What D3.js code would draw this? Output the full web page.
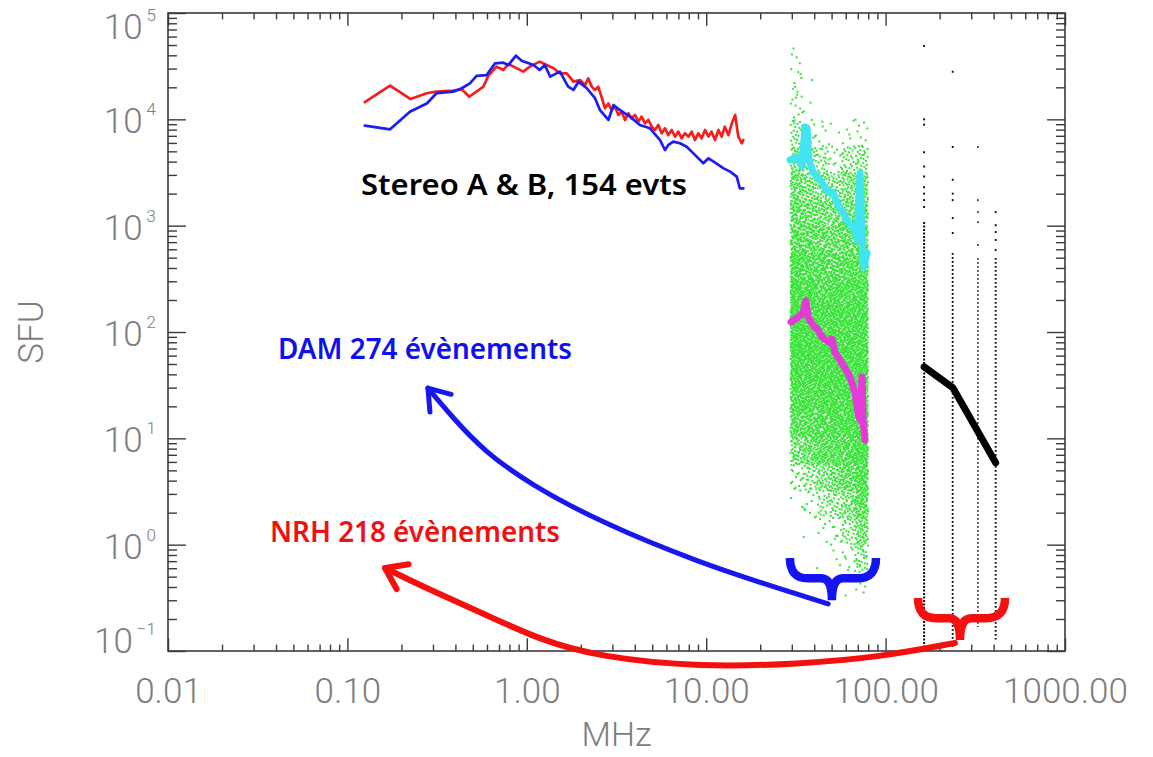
<!DOCTYPE html>
<html>
<head>
<meta charset="utf-8">
<script src="https://cdn.jsdelivr.net/npm/d3@7"></script>
<style>
  body { margin: 0; background: #fff; }
  svg { display: block; }
</style>
</head>
<body>
<svg id="chart" width="1153" height="757"></svg>
<script>
// ---------------- data ----------------
// STEREO A (red) and B (blue) average spectra, MHz / SFU
const stereoAFreq = [0.125,0.173,0.225,0.277,0.314,0.389,0.434,0.478,0.573,0.610,0.679,0.740,0.789,0.860,0.956,1.04,1.18,1.29,1.41,1.53,1.67,1.82,1.98,2.11,2.20,2.30,2.40,2.50,2.61,2.73,2.85,2.97,3.10,3.24,3.38,3.53,3.68,3.84,4.01,4.18,4.37,4.56,4.76,4.97,5.18,5.41,5.65,5.89,6.15,6.42,6.70,6.99,7.30,7.62,7.95,8.30,8.66,9.04,9.43,9.85,10.3,10.7,11.2,11.7,12.2,12.7,13.3,13.9,14.5,15.1,15.8,16.1];
const stereoASfu  = [1.45e4,2.07e4,1.55e4,1.76e4,1.82e4,1.86e4,1.92e4,1.63e4,2.03e4,2.56e4,3.13e4,2.91e4,3.31e4,3.08e4,2.81e4,3.13e4,3.49e4,3.24e4,3.02e4,2.71e4,2.71e4,2.26e4,2.34e4,2.10e4,2.43e4,2.03e4,1.89e4,2.03e4,1.63e4,1.27e4,1.41e4,1.22e4,1.32e4,1.10e4,1.18e4,9.86e3,1.14e4,1.02e4,1.10e4,9.51e3,1.06e4,9.17e3,9.86e3,8.53e3,7.94e3,8.85e3,7.39e3,8.23e3,7.12e3,7.94e3,6.87e3,7.66e3,6.63e3,7.39e3,6.87e3,7.66e3,6.39e3,7.39e3,6.63e3,7.94e3,6.87e3,7.66e3,6.39e3,7.94e3,6.87e3,8.53e3,7.12e3,9.17e3,1.10e4,6.87e3,5.95e3,6.39e3];

const stereoBFreq = [0.125,0.173,0.223,0.277,0.314,0.389,0.434,0.482,0.525,0.597,0.665,0.740,0.789,0.870,0.936,1.09,1.18,1.26,1.35,1.53,1.70,1.82,1.94,2.16,2.40,2.56,2.85,3.04,3.31,3.76,4.27,4.86,5.53,5.89,6.15,6.56,7.14,7.78,8.30,8.85,9.64,10.3,11.0,12.5,13.6,14.8,15.4,16.1];
const stereoBSfu  = [8.72e3,8.05e3,1.18e4,1.41e4,1.76e4,1.82e4,1.96e4,2.18e4,2.56e4,2.61e4,3.36e4,3.41e4,3.24e4,3.97e4,3.56e4,3.24e4,2.91e4,3.24e4,2.52e4,2.81e4,2.03e4,1.89e4,2.26e4,1.96e4,1.58e4,1.22e4,9.86e3,1.36e4,1.22e4,1.06e4,8.85e3,8.23e3,6.39e3,5.15e3,5.74e3,6.17e3,5.95e3,5.53e3,4.97e3,4.46e3,3.86e3,4.30e3,4.00e3,3.46e3,3.22e3,2.89e3,2.24e3,2.24e3];

// DAM event fluxes: number of points per (frequency bin x flux bin)
const damFreqEdges = [29.5, 34.6, 40.9, 48.4, 57.1, 67.5, 79.8];
const damSfuEdges  = [5.62e4,3.16e4,1.78e4,1e4,5.62e3,3.16e3,1.78e3,1e3,562,316,178,100,56.2,31.6,17.8,10,5.62,3.16,1.78,1,0.562,0.316];
const damCounts = [
  [  4,  0,  0,  0,  0,  0],
  [  8,  1,  0,  0,  0,  0],
  [ 10,  2,  0,  0,  0,  0],
  [ 25, 10,  6,  2,  5,  8],
  [ 45, 30, 25, 10, 25, 30],
  [ 60, 50, 45, 35, 50, 55],
  [ 70, 65, 60, 55, 65, 70],
  [ 80, 80, 75, 70, 75, 80],
  [ 95, 90, 90, 85, 90, 90],
  [110,105,100,100,100,105],
  [115,115,110,110,110,110],
  [115,115,115,115,115,115],
  [110,110,110,110,110,115],
  [100,105,105,105,110,115],
  [ 80, 90, 95,100,105,115],
  [ 50, 65, 80, 85, 95,110],
  [ 15, 30, 45, 60, 75,100],
  [  2,  8, 20, 30, 45, 80],
  [  0,  1,  5, 10, 25, 55],
  [  0,  0,  1,  3,  8, 30],
  [  0,  0,  0,  0,  1,  8]
];

// DAM upper (cyan) and median (magenta) spectra
const damUpperFreq = [29.3,32.1,34.2,35.5,36.5,37.4,39.4,43.1,45.9,49.0,50.9,53.6,57.9,61.7,67.5,69.3,72.0,73.9,75.8,78.8];
const damUpperSfu  = [4150,4420,3640,8470,8290,4150,3200,2690,2260,2030,2070,1630,1320,1080,911,733,3130,733,409,553];
const damMedianFreq = [29.7,32.5,34.6,36.0,36.9,39.4,42.0,44.8,49.0,50.2,52.2,55.7,59.4,63.3,67.5,70.2,72.0,73.9,74.8,76.8];
const damMedianSfu  = [124,138,151,196,138,116,104,87.8,78.8,85.9,64.8,54.5,45.8,37.7,26.7,17.3,14.9,37.7,14.9,9.6];

// NRH frequencies, event fluxes and mean spectrum
const nrhFreqs = [164, 236.6, 327, 410.7];
const nrhIsolated = [
  [4.9e4,1.0e4,8.9e3,4.9e3,3.6e3,2.9e3,2.3e3,2.0e3,1.74e3,1.5e3],
  [2.8e4,5.5e3,2.7e3,2.0e3,1.74e3,1.18e3,853],
  [5.5e3,1.74e3,1.34e3,1.08e3,658],
  [1.34e3,1.01e3,871,733,590]
];
const nrhDenseTop    = [1.08e3, 553, 497, 497];
const nrhDenseBottom = [0.105, 0.107, 0.168, 0.128];
const nrhMeanFreq = [164, 236.6, 410.7];
const nrhMeanSfu  = [47, 30, 5.9];

// annotation anchors (MHz / SFU)
const damArrowFreq = [0.281,0.383,0.585,1.04,2.56,9.24,29.3,47.8];
const damArrowSfu  = [29.7,15.9,7.43,3.72,1.63,0.672,0.359,0.277];
const nrhArrowFreq = [0.162,0.289,0.548,1.18,2.56,9.24,33.3,93.1,243.7];
const nrhArrowSfu  = [0.603,0.374,0.233,0.127,0.0877,0.0706,0.0754,0.0877,0.119];
const damBraceFreq = [29.3, 50.2, 88.4];
const damBraceSfu  = [0.748, 0.30];
const nrhBraceFreq = [151.6, 259.8, 463];
const nrhBraceSfu  = [0.315, 0.127];

// axes
const xMajorTicks = [0.01, 0.1, 1, 10, 100, 1000];
const xTickLabels = ["0.01", "0.10", "1.00", "10.00", "100.00", "1000.00"];
const yMajorTicks = [0.1, 1, 10, 100, 1e3, 1e4, 1e5];
const yExponents  = ["\u22121", "0", "1", "2", "3", "4", "5"];

const labelStereo = "Stereo A & B, 154 evts";
const labelDam = "DAM 274 évènements";
const labelNrh = "NRH 218 évènements";

// ---------------- layout ----------------
const plot = { left: 168, top: 13, right: 1065, bottom: 651 };
const pw = plot.right - plot.left, ph = plot.bottom - plot.top;
const x = d3.scaleLog().domain([0.01, 1000]).range([plot.left, plot.right]);
const y = d3.scaleLog().domain([0.1, 1e5]).range([plot.bottom, plot.top]);

const svg = d3.select("#chart");
const axisColor = "#3a3a3a";
const labelColor = "#7d7d7d";
const tickFont = "Roboto, 'Liberation Sans', Arial, sans-serif";
const noteFont = "'Noto Sans', 'DejaVu Sans', sans-serif";

// ---------------- DAM point cloud ----------------
// points of each bin are spread over the bin with a Halton layout
function halton(i, b) {
  let f = 1, r = 0;
  while (i > 0) { f /= b; r += f * (i % b); i = Math.floor(i / b); }
  return r;
}
const cloud = [];
let k = 1;
damCounts.forEach((row, r) => {
  row.forEach((n, c) => {
    const f0 = damFreqEdges[c], f1 = damFreqEdges[c + 1];
    const s0 = damSfuEdges[r + 1], s1 = damSfuEdges[r];
    for (let i = 0; i < n; i++, k++) {
      const u = halton(k, 2), v = halton(k, 3);
      cloud.push([f0 * Math.pow(f1 / f0, u), s0 * Math.pow(s1 / s0, v)]);
    }
  });
});
svg.append("g").attr("fill", "#36e336")
  .selectAll("rect").data(cloud).join("rect")
  .attr("x", d => x(d[0]) - 1).attr("y", d => y(d[1]) - 1)
  .attr("width", 2).attr("height", 2);

// ---------------- NRH event columns ----------------
const nrhG = svg.append("g");
const colOpacity = [1, 0.95, 0.7, 0.95];
nrhFreqs.forEach((f, i) => {
  nrhG.append("line")
    .attr("x1", x(f)).attr("x2", x(f))
    .attr("y1", y(nrhDenseTop[i])).attr("y2", y(nrhDenseBottom[i]))
    .attr("stroke", "#000").attr("stroke-width", 1.9)
    .attr("stroke-dasharray", i === 0 ? "2,1.5" : "1.8,2.2")
    .attr("opacity", colOpacity[i]);
  nrhG.selectAll(null).data(nrhIsolated[i]).join("rect")
    .attr("x", x(f) - 0.9).attr("y", d => y(d) - 1)
    .attr("width", 1.8).attr("height", 2)
    .attr("fill", "#000").attr("opacity", colOpacity[i]);
});

// ---------------- spectra ----------------
const line = d3.line().x(d => x(d[0])).y(d => y(d[1]));
function drawSeries(fr, sf, color, width) {
  svg.append("path").datum(d3.zip(fr, sf))
    .attr("d", line).attr("fill", "none")
    .attr("stroke", color).attr("stroke-width", width)
    .attr("stroke-linejoin", "round").attr("stroke-linecap", "round");
}
drawSeries(damUpperFreq, damUpperSfu, "#42e3f2", 7);
drawSeries(damMedianFreq, damMedianSfu, "#e63ad8", 7);
drawSeries(nrhMeanFreq, nrhMeanSfu, "#000", 7);
drawSeries(stereoAFreq, stereoASfu, "#f51d1d", 2.7);
drawSeries(stereoBFreq, stereoBSfu, "#1c1cf5", 2.7);

// ---------------- axes ----------------
function minorTicks(scale) {
  return scale.ticks().filter(t => {
    const l = Math.log10(t);
    return Math.abs(l - Math.round(l)) > 1e-6;
  });
}
const xMinor = minorTicks(x), yMinor = minorTicks(y);
const tl = 0.02;
function styleAxis(g) {
  g.select(".domain").remove();
  g.selectAll(".tick line").attr("stroke", axisColor).attr("stroke-width", 1.4);
}
svg.append("g").attr("transform", `translate(0,${plot.bottom})`)
  .call(d3.axisBottom(x).tickValues(xMajorTicks).tickSizeInner(-tl * ph).tickSizeOuter(0)
    .tickPadding(27).tickFormat((d, i) => xTickLabels[i]))
  .call(styleAxis)
  .call(g => g.selectAll(".tick text").attr("font-family", tickFont).attr("font-weight", 300)
    .attr("font-size", 35).attr("fill", labelColor));
svg.append("g").attr("transform", `translate(0,${plot.bottom})`)
  .call(d3.axisBottom(x).tickValues(xMinor).tickSizeInner(-tl * ph / 2).tickSizeOuter(0).tickFormat(""))
  .call(styleAxis);
svg.append("g").attr("transform", `translate(0,${plot.top})`)
  .call(d3.axisTop(x).tickValues(xMajorTicks).tickSizeInner(-tl * ph).tickSizeOuter(0).tickFormat(""))
  .call(styleAxis);
svg.append("g").attr("transform", `translate(0,${plot.top})`)
  .call(d3.axisTop(x).tickValues(xMinor).tickSizeInner(-tl * ph / 2).tickSizeOuter(0).tickFormat(""))
  .call(styleAxis);
svg.append("g").attr("transform", `translate(${plot.left},0)`)
  .call(d3.axisLeft(y).tickValues(yMajorTicks).tickSizeInner(-tl * pw).tickSizeOuter(0).tickFormat(""))
  .call(styleAxis);
svg.append("g").attr("transform", `translate(${plot.left},0)`)
  .call(d3.axisLeft(y).tickValues(yMinor).tickSizeInner(-tl * pw / 2).tickSizeOuter(0).tickFormat(""))
  .call(styleAxis);
svg.append("g").attr("transform", `translate(${plot.right},0)`)
  .call(d3.axisRight(y).tickValues(yMajorTicks).tickSizeInner(-tl * pw).tickSizeOuter(0).tickFormat(""))
  .call(styleAxis);
svg.append("g").attr("transform", `translate(${plot.right},0)`)
  .call(d3.axisRight(y).tickValues(yMinor).tickSizeInner(-tl * pw / 2).tickSizeOuter(0).tickFormat(""))
  .call(styleAxis);
svg.append("rect")
  .attr("x", plot.left).attr("y", plot.top).attr("width", pw).attr("height", ph)
  .attr("fill", "none").attr("stroke", axisColor).attr("stroke-width", 1.6);

// y tick labels as 10^n
const yl = svg.append("g").attr("font-family", tickFont).attr("font-weight", 300)
  .attr("fill", labelColor).attr("text-anchor", "end");
yMajorTicks.forEach((v, i) => {
  const base = Math.min(Math.max(y(v) + 14, plot.top + 25.5), plot.bottom + 2);
  const t = yl.append("text").attr("x", plot.left - 12).attr("y", base);
  t.append("tspan").attr("font-size", 35).text("10");
  t.append("tspan").attr("font-size", 17).attr("dx", 4).attr("dy", -18).text(yExponents[i]);
});

// axis titles
svg.append("text").attr("x", (plot.left + plot.right) / 2).attr("y", 746)
  .attr("text-anchor", "middle").attr("font-family", tickFont).attr("font-weight", 300)
  .attr("font-size", 34).attr("fill", labelColor).text("MHz");
svg.append("text").attr("transform", `translate(43,${(plot.top + plot.bottom) / 2}) rotate(-90)`)
  .attr("text-anchor", "middle").attr("font-family", tickFont).attr("font-weight", 300)
  .attr("font-size", 35).attr("fill", labelColor).text("SFU");

// ---------------- annotations ----------------
const curve = d3.line().x(d => x(d[0])).y(d => y(d[1])).curve(d3.curveBasis);
function arrow(fr, sf, color, width) {
  const pts = d3.zip(fr, sf);
  svg.append("path").datum(pts).attr("d", curve).attr("fill", "none")
    .attr("stroke", color).attr("stroke-width", width).attr("stroke-linecap", "round");
  const tx = x(pts[0][0]), ty = y(pts[0][1]);
  const bx = x(pts[1][0]) - tx, by = y(pts[1][1]) - ty;
  const ang = Math.atan2(by, bx), len = 24, spread = 35 * Math.PI / 180;
  const p = [[tx + len * Math.cos(ang - spread), ty + len * Math.sin(ang - spread)], [tx, ty],
             [tx + len * Math.cos(ang + spread), ty + len * Math.sin(ang + spread)]];
  svg.append("path").attr("d", d3.line()(p)).attr("fill", "none")
    .attr("stroke", color).attr("stroke-width", width)
    .attr("stroke-linecap", "round").attr("stroke-linejoin", "round");
}
arrow(damArrowFreq, damArrowSfu, "#1818ee", 5);
arrow(nrhArrowFreq, nrhArrowSfu, "#f51010", 6);

function brace(fr, sf, color) {
  const x0 = x(fr[0]), xc = x(fr[1]), x1 = x(fr[2]);
  const y0 = y(sf[0]), yt = y(sf[1]);
  const ym = y0 + (yt - y0) * 0.48;
  const rl = (xc - x0) * 0.42, rr = (x1 - xc) * 0.42;
  const d = `M${x0},${y0} Q${x0},${ym} ${x0 + rl},${ym} L${xc - rl * 0.6},${ym} Q${xc},${ym} ${xc},${yt}` +
            ` M${x1},${y0} Q${x1},${ym} ${x1 - rr},${ym} L${xc + rr * 0.6},${ym} Q${xc},${ym} ${xc},${yt}`;
  svg.append("path").attr("d", d).attr("fill", "none").attr("stroke", color)
    .attr("stroke-width", 8.5).attr("stroke-linecap", "butt").attr("stroke-linejoin", "round");
}
brace(damBraceFreq, damBraceSfu, "#1414f0");
brace(nrhBraceFreq, nrhBraceSfu, "#f51010");

function note(text, xx, yy, len, color) {
  svg.append("text").attr("x", xx).attr("y", yy)
    .attr("font-family", noteFont).attr("font-weight", 600).attr("font-size", 28)
    .attr("textLength", len).attr("lengthAdjust", "spacingAndGlyphs")
    .attr("fill", color).text(text);
}
note(labelStereo, 361, 195, 326, "#000");
note(labelDam, 278, 359, 294, "#1010ee");
note(labelNrh, 270, 542, 290, "#f01010");
</script>
</body>
</html>
